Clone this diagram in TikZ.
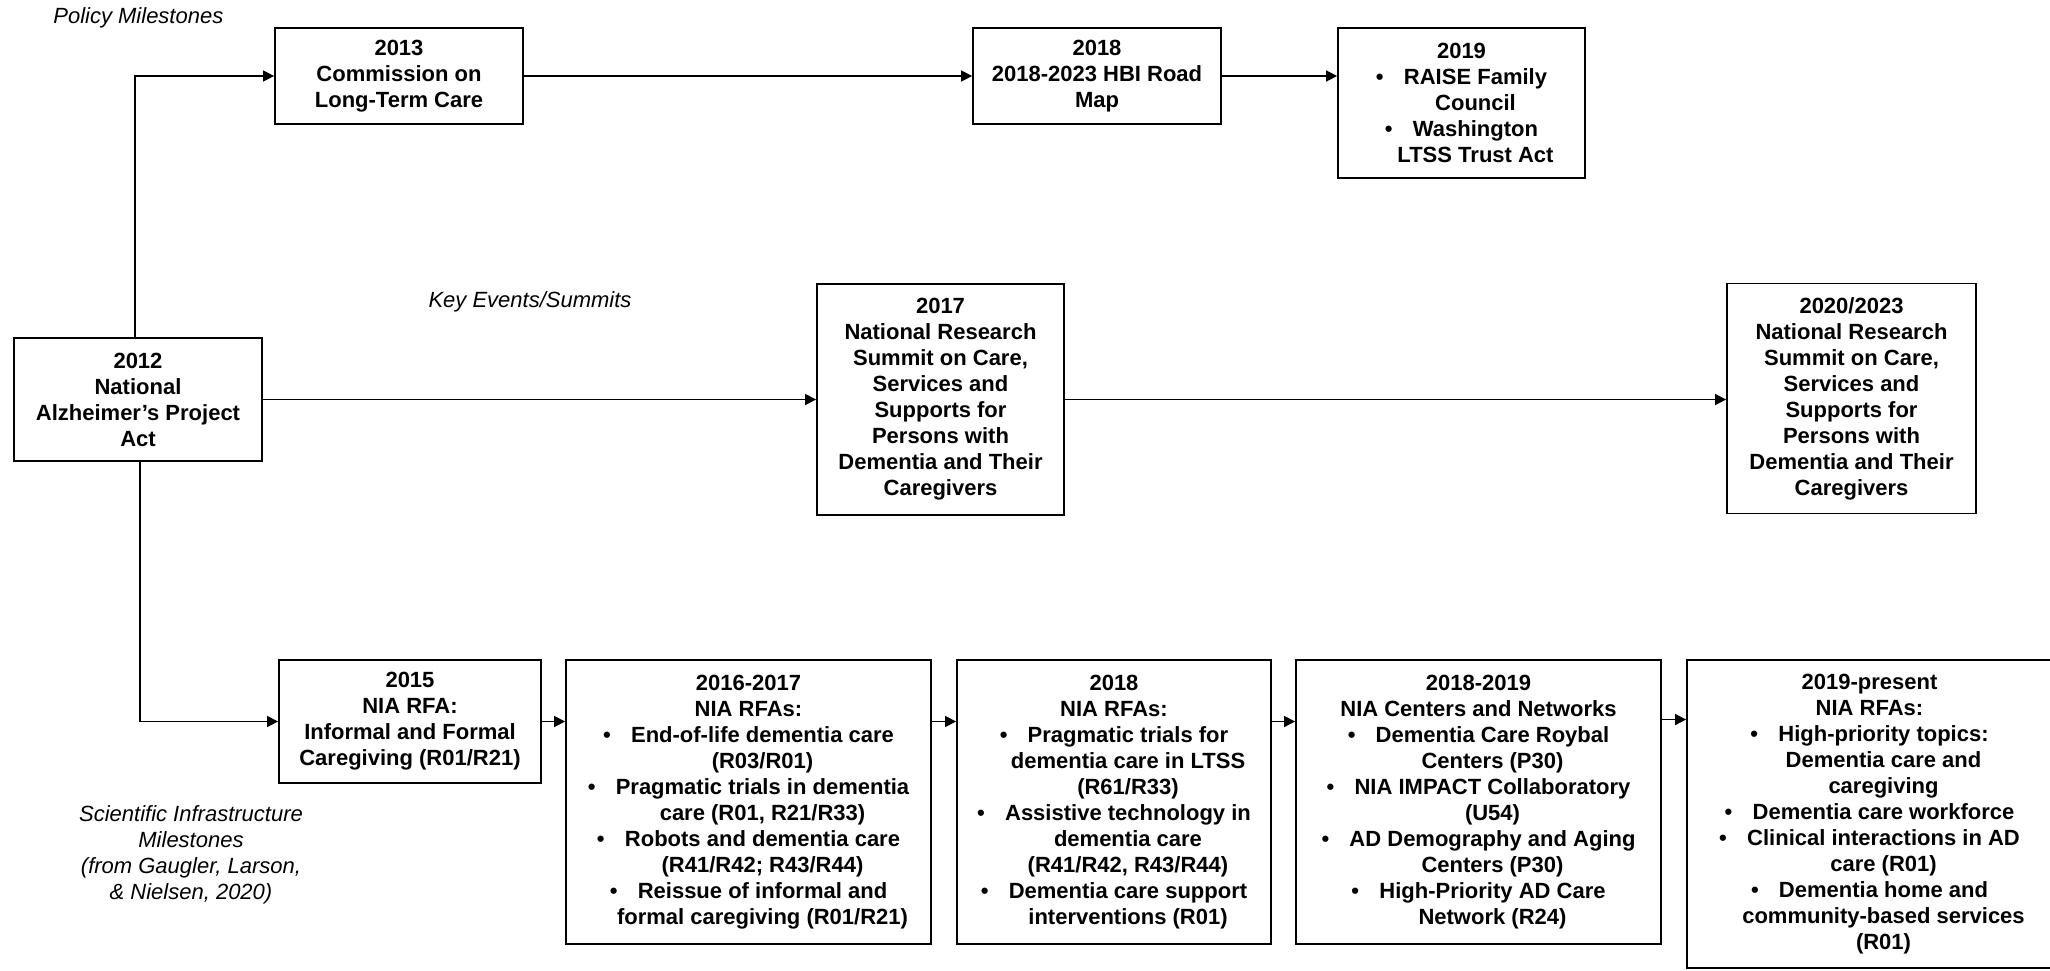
\documentclass[tikz,border=0pt]{standalone}
\usepackage{fontspec}
\setmainfont{Liberation Sans}
\usetikzlibrary{arrows.meta}
\newcommand{\bli}[1]{\hspace*{14pt}\llap{\makebox[14pt][l]{\textbullet}}#1}
\newcommand{\cli}[1]{\hspace*{14pt}#1}
\begin{document}
\begin{tikzpicture}[x=0.5pt,y=-0.5pt,
  box/.style={draw, line width=0.9pt, inner sep=0pt, align=center,
    font=\bfseries\fontsize{11}{13}\selectfont},
  lab/.style={inner sep=0pt, align=center, font=\itshape\fontsize{11}{13}\selectfont},
  conn/.style={line width=0.75pt, -{Triangle[length=5.5pt,width=5.5pt]}}]
\useasboundingbox (0,0) rectangle (2050,970);

% labels
\node[lab, anchor=west] (lpol) at (53,18) {Policy Milestones};
\node[lab] (lkey) at (530,302) {Key Events/Summits};
\node[lab] (lsci) at (191,855) {Scientific Infrastructure\\Milestones\\(from Gaugler, Larson,\\\& Nielsen, 2020)};

% top row
\node[box, minimum width=124pt, minimum height=48pt] (n2013) at (399,76)
  {2013\\Commission on\\Long-Term Care};
\node[box, minimum width=124pt, minimum height=48pt] (n2018t) at (1097,76)
  {2018\\2018-2023 HBI Road\\Map};
\node[box, minimum width=123.5pt, minimum height=75pt] (n2019) at (1461.5,103)
  {2019\\\bli{RAISE Family}\\\cli{Council}\\\bli{Washington}\\\cli{LTSS Trust Act}};

% middle row
\node[box, minimum width=124pt, minimum height=61.5pt] (n2012) at (138,399.5)
  {2012\\National\\Alzheimer’s Project\\Act};
\node[box, minimum width=123.5pt, minimum height=115.5pt] (n2017) at (940.5,399.5)
  {2017\\National Research\\Summit on Care,\\Services and\\Supports for\\Persons with\\Dementia and Their\\Caregivers};
\node[box, minimum width=124.5pt, minimum height=115pt] (n2020) at (1851.5,398.5)
  {2020/2023\\National Research\\Summit on Care,\\Services and\\Supports for\\Persons with\\Dementia and Their\\Caregivers};

% bottom row
\node[box, minimum width=131pt, minimum height=61.5pt] (n2015) at (410,721.5)
  {2015\\NIA RFA:\\Informal and Formal\\Caregiving (R01/R21)};
\node[box, minimum width=182.5pt, minimum height=142pt] (n2016) at (748.5,802)
  {2016-2017\\NIA RFAs:\\\bli{End-of-life dementia care}\\\cli{(R03/R01)}\\\bli{Pragmatic trials in dementia}\\\cli{care (R01, R21/R33)}\\\bli{Robots and dementia care}\\\cli{(R41/R42; R43/R44)}\\\bli{Reissue of informal and}\\\cli{formal caregiving (R01/R21)}};
\node[box, minimum width=157pt, minimum height=142pt] (n2018b) at (1114,802)
  {2018\\NIA RFAs:\\\bli{Pragmatic trials for}\\\cli{dementia care in LTSS}\\\cli{(R61/R33)}\\\bli{Assistive technology in}\\\cli{dementia care}\\\cli{(R41/R42, R43/R44)}\\\bli{Dementia care support}\\\cli{interventions (R01)}};
\node[box, minimum width=182.5pt, minimum height=142pt] (n2018c) at (1478.5,802)
  {2018-2019\\NIA Centers and Networks\\\bli{Dementia Care Roybal}\\\cli{Centers (P30)}\\\bli{NIA IMPACT Collaboratory}\\\cli{(U54)}\\\bli{AD Demography and Aging}\\\cli{Centers (P30)}\\\bli{High-Priority AD Care}\\\cli{Network (R24)}};
\node[box, minimum width=182.5pt, minimum height=154pt] (n2019p) at (1869.5,814)
  {2019-present\\NIA RFAs:\\\bli{High-priority topics:}\\\cli{Dementia care and}\\\cli{caregiving}\\\bli{Dementia care workforce}\\\bli{Clinical interactions in AD}\\\cli{care (R01)}\\\bli{Dementia home and}\\\cli{community-based services}\\\cli{(R01)}};

% connectors
\draw[conn] ([xshift=-1.5pt]n2012.north) |- (n2013.west);
\draw[conn] (n2013.east) -- (n2018t.west);
\draw[conn] (n2018t.east) -- (n2019.west |- n2018t.east);
\draw[conn] (n2012.east) -- (n2017.west |- n2012.east);
\draw[conn] (n2017.east) -- (n2020.west |- n2017.east);
\draw[conn] ([xshift=1pt]n2012.south) |- (n2015.west);
\draw[conn] (n2015.east) -- (n2016.west |- n2015.east);
\draw[conn] (n2016.east |- n2015.east) -- (n2018b.west |- n2015.east);
\draw[conn] (n2018b.east |- n2015.east) -- (n2018c.west |- n2015.east);
\draw[conn] ([yshift=1pt]n2018c.east |- n2015.east) -- ([yshift=1pt]n2019p.west |- n2015.east);
\end{tikzpicture}
\end{document}
